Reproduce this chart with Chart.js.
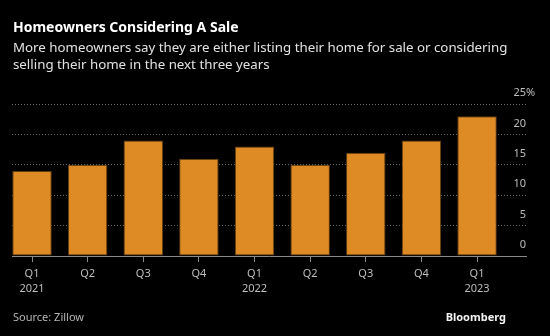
<!DOCTYPE html>
<html>
<head>
<meta charset="utf-8">
<script src="https://cdn.jsdelivr.net/npm/chart.js@4"></script>
<style>
  html, body { margin: 0; padding: 0; background: #000; }
  #wrap { position: relative; width: 550px; height: 336px; overflow: hidden; background: #000; }
  #chart { position: absolute; left: 0; top: 0; }
  .txt { position: absolute; white-space: nowrap; font-family: "Noto Sans", sans-serif; }
  #title { left: 13px; top: 20px; font-size: 14px; line-height: 14px; font-weight: 700; color: #ffffff; }
  #subtitle { left: 13px; top: 39px; font-size: 13.3px; line-height: 17px; color: #e2e2e2; }
  #source { left: 13px; top: 311px; font-size: 11px; line-height: 11px; color: #b5b5b5; }
  #brand { right: 44px; top: 311px; font-size: 11px; line-height: 11px; font-weight: 700; color: #f2f2f2; }
</style>
</head>
<body>
<div id="wrap">
  <canvas id="chart" width="550" height="336"></canvas>
  <div class="txt" id="title">Homeowners Considering A Sale</div>
  <div class="txt" id="subtitle">More homeowners say they are either listing their home for sale or considering<br>selling their home in the next three years</div>
  <div class="txt" id="source">Source: Zillow</div>
  <div class="txt" id="brand">Bloomberg</div>
</div>
<script>
// Share of homeowners listing or considering a sale, by quarter (%)
const quarters = ["Q1", "Q2", "Q3", "Q4", "Q1", "Q2", "Q3", "Q4", "Q1"];
const years = ["2021", "", "", "", "2022", "", "", "", "2023"];
const shares = [14, 15, 19, 16, 18, 15, 17, 19, 23];
const yTicks = [0, 5, 10, 15, 20, 25];

const tickFont = { family: "Noto Sans", size: 11, lineHeight: 1.4 };
const tickColor = "#bdbdbd";

// Adds the percent sign after the topmost value label
const percentSign = {
  id: "percentSign",
  afterDraw(chart) {
    const y = chart.scales.y;
    const ctx = chart.ctx;
    const top = yTicks[yTicks.length - 1];
    ctx.save();
    ctx.font = `${tickFont.size}px ${tickFont.family}`;
    ctx.fillStyle = tickColor;
    ctx.textAlign = "left";
    ctx.textBaseline = "middle";
    ctx.fillText("%", chart.chartArea.right, y.getPixelForValue(top) - 11);
    ctx.restore();
  }
};

new Chart(document.getElementById("chart"), {
  type: "bar",
  data: {
    datasets: [{
      data: shares.map((v, i) => ({ x: i, y: v })),
      backgroundColor: "#de8b26",
      borderColor: "#5e3c12",
      borderWidth: 1,
      borderSkipped: false,
      categoryPercentage: 1,
      barPercentage: 0.71
    }]
  },
  options: {
    responsive: false,
    animation: false,
    events: [],
    layout: { padding: { top: 104, left: 12, right: 24, bottom: 20 } },
    plugins: { legend: { display: false }, tooltip: { enabled: false } },
    scales: {
      x: {
        type: "linear",
        offset: false,
        min: -0.36,
        max: 8.88,
        afterBuildTicks(scale) {
          scale.ticks = quarters.map((_, i) => ({ value: i }));
        },
        afterFit(scale) { scale.height = 60; },
        grid: { offset: false, drawOnChartArea: false, drawTicks: true, tickLength: 6, tickColor: "#8a8a8a" },
        border: { display: true, color: "#8a8a8a", width: 1 },
        ticks: {
          autoSkip: false,
          maxRotation: 0,
          padding: 4,
          color: tickColor,
          font: tickFont,
          callback(value) {
            const i = Math.round(value);
            return years[i] ? [quarters[i], years[i]] : quarters[i];
          }
        }
      },
      y: {
        position: "right",
        min: 0,
        max: 25,
        afterBuildTicks(scale) {
          scale.ticks = yTicks.map(v => ({ value: v }));
        },
        afterFit(scale) { scale.width = 0; },
        grid: { color: "#6a6a6a", lineWidth: 1, drawTicks: false },
        border: { display: false, dash: [1, 2] },
        ticks: {
          mirror: true,
          padding: 0,
          labelOffset: -11,
          color: tickColor,
          font: tickFont,
          callback(value) { return String(value); }
        }
      }
    }
  },
  plugins: [percentSign]
});
</script>
</body>
</html>
